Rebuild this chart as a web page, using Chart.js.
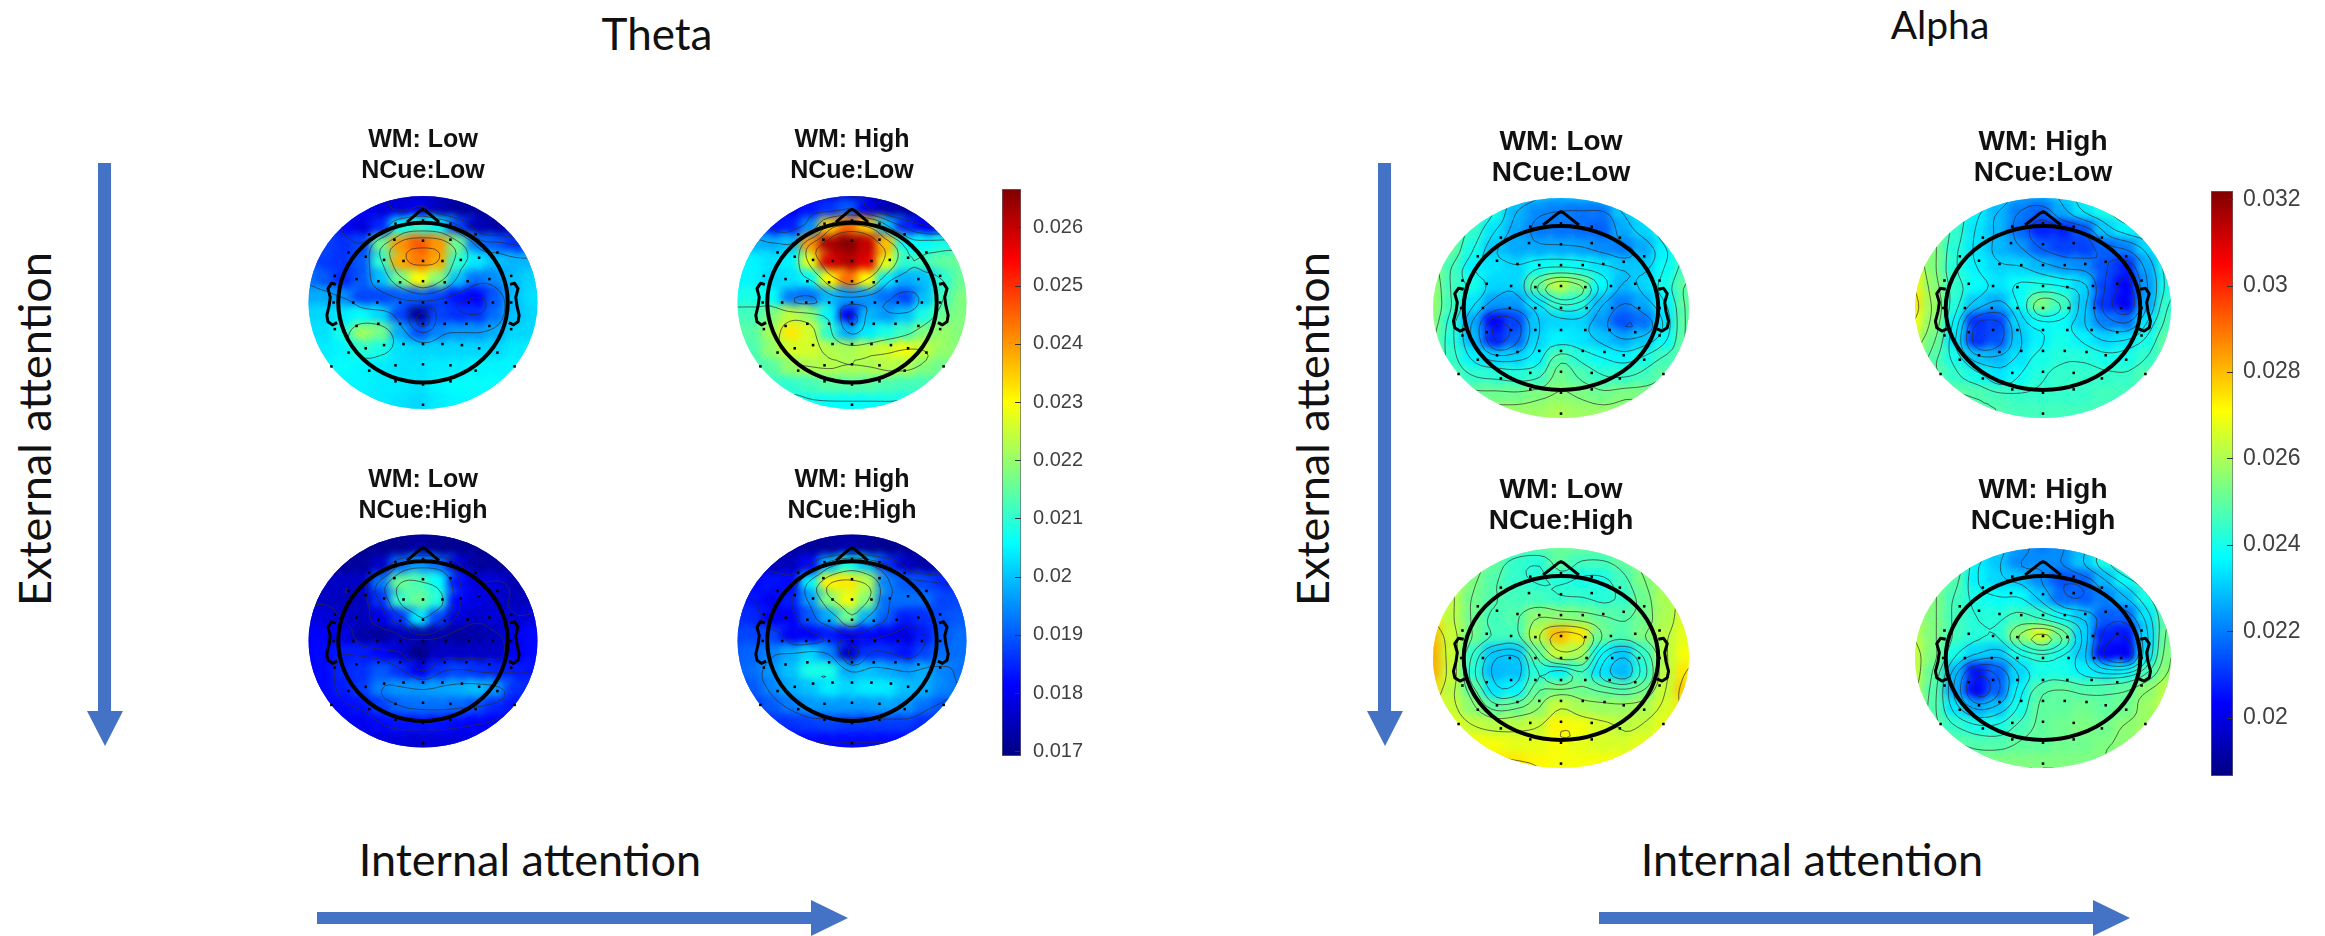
<!DOCTYPE html>
<html>
<head>
<meta charset="utf-8">
<title>Theta and Alpha topographies</title>
<script src="https://cdn.jsdelivr.net/npm/chart.js@4"></script>
<style>
  html, body { margin: 0; background: #fff; overflow: hidden; }
  #page { position: relative; width: 2325px; height: 936px; }
  canvas { position: absolute; }
  svg { position: absolute; left: 0; top: 0; }
  .label { position: absolute; font-family: Lato, sans-serif; color: #111; white-space: nowrap; transform: translate(-50%, -50%); }
  .side { transform: translate(-50%, -50%) rotate(-90deg); }
</style>
</head>
<body>
<div id="page">
  <svg width="2325" height="936">
    <g fill="#4472C4">
      <polygon points="98,163 111,163 111,711 123,711 105,746 87,711 98,711"/>
      <polygon points="1378,163 1391,163 1391,711 1403,711 1385,746 1367,711 1378,711"/>
      <polygon points="317,912 811,912 811,900 848,918 811,936 811,924 317,924"/>
      <polygon points="1599,912 2093,912 2093,900 2130,918 2093,936 2093,924 1599,924"/>
    </g>
  </svg>
  <div class="label" style="left:657px;top:33px;font-size:44px">Theta</div>
  <div class="label" style="left:1940px;top:24px;font-size:39px">Alpha</div>
  <div class="label side" style="left:34px;top:429px;font-size:45px">External attention</div>
  <div class="label side" style="left:1312px;top:429px;font-size:45px">External attention</div>
  <div class="label" style="left:530px;top:859px;font-size:45px">Internal attention</div>
  <div class="label" style="left:1812px;top:859px;font-size:45px">Internal attention</div>
</div>
<script>
// grid of the interpolated maps (values in 1e-3)
const gridX = [-1, -0.833, -0.667, -0.5, -0.333, -0.167, 0, 0.167, 0.333, 0.5, 0.667, 0.833, 1];
const gridY = [1, 0.833, 0.667, 0.5, 0.333, 0.167, 0, -0.167, -0.333, -0.5, -0.667, -0.833, -1];

const thetaLowLow = [
  [18.5,18.3,18.0,17.8,17.6,17.5,17.5,17.4,17.3,17.2,17.2,17.2,17.2],
  [18.6,18.5,18.3,18.2,17.8,17.8,18.0,17.5,17.2,17.2,17.2,17.2,17.2],
  [18.8,18.6,18.2,17.8,18.5,20.6,21.0,20.6,18.8,17.5,17.3,17.3,17.3],
  [18.9,18.8,18.6,18.8,21.6,24.0,24.6,24.0,21.6,19.3,19.0,18.6,18.6],
  [19.0,18.7,18.6,19.0,21.0,23.8,24.3,23.8,21.0,20.4,20.0,19.9,19.9],
  [19.3,19.0,18.5,19.0,20.0,21.6,23.0,21.8,20.0,19.2,19.5,20.0,20.2],
  [19.8,19.8,19.5,18.8,18.8,19.0,19.0,18.8,18.3,18.1,19.0,20.0,20.3],
  [20.2,20.2,20.4,20.6,20.2,18.8,17.2,18.8,18.6,18.6,19.2,20.0,20.2],
  [20.3,20.3,20.8,22.1,21.7,19.8,18.9,19.4,19.6,19.6,19.8,20.2,20.2],
  [20.4,20.4,20.5,21.0,20.8,20.3,20.2,20.2,20.2,20.2,20.2,20.4,20.4],
  [20.5,20.5,20.6,20.5,20.4,20.3,20.3,20.4,20.4,20.5,20.5,20.5,20.5],
  [20.5,20.5,20.5,20.5,20.4,20.4,20.3,20.5,20.6,20.6,20.6,20.6,20.6],
  [20.4,20.4,20.4,20.4,20.4,20.3,20.2,20.4,20.5,20.5,20.5,20.5,20.5],
];
const thetaHighLow = [
  [18.5,18.3,18.0,17.9,17.8,17.7,17.6,17.5,17.3,17.2,17.2,17.2,17.2],
  [18.8,18.5,18.3,18.0,18.3,18.6,19.0,18.0,17.4,17.2,17.2,17.2,17.2],
  [19.0,18.9,18.3,18.4,19.5,23.4,24.4,23.4,20.0,18.5,18.0,18.0,18.0],
  [19.9,19.9,19.8,20.0,24.0,26.2,26.6,26.0,23.6,20.6,20.6,20.8,20.8],
  [20.6,20.5,20.3,20.5,22.8,25.8,26.2,25.7,22.8,21.0,21.2,21.5,21.6],
  [20.5,20.5,20.2,20.3,20.6,23.0,24.4,23.0,20.4,19.8,20.0,21.0,21.6],
  [20.8,20.8,20.6,19.3,19.2,19.9,19.6,19.6,19.2,18.8,20.0,21.2,21.8],
  [21.2,21.2,21.8,22.4,21.9,20.5,18.0,19.9,19.6,20.0,20.8,21.6,21.8],
  [21.4,21.4,22.2,23.2,22.6,21.0,19.8,20.4,20.8,21.2,21.8,22.0,21.8],
  [21.3,21.3,22.0,22.6,22.6,22.3,22.2,22.4,22.6,22.9,22.4,22.0,21.8],
  [21.2,21.2,21.4,22.0,22.2,22.3,22.2,22.2,22.3,22.2,21.8,21.6,21.6],
  [21.0,21.0,21.0,21.0,21.2,21.4,21.4,21.4,21.3,21.2,21.2,21.2,21.2],
  [20.7,20.7,20.7,20.7,20.7,20.6,20.6,20.6,20.7,20.7,20.8,20.8,20.8],
];
const thetaLowHigh = [
  [17.3,17.3,17.2,17.2,17.2,17.2,17.2,17.1,17.1,17.1,17.1,17.1,17.1],
  [17.4,17.3,17.2,17.1,17.1,17.1,17.3,17.1,17.1,17.1,17.1,17.1,17.1],
  [17.5,17.4,17.2,17.2,17.6,19.2,19.6,19.2,17.8,17.2,17.2,17.1,17.1],
  [17.6,17.5,17.6,17.6,19.3,21.6,21.3,20.6,18.3,17.8,17.8,17.4,17.4],
  [17.6,17.6,17.5,17.5,18.6,21.1,21.6,20.9,18.2,17.9,17.7,17.5,17.5],
  [17.8,17.8,17.6,17.5,17.9,18.6,20.4,18.8,17.8,17.6,17.8,17.7,17.8],
  [18.1,18.1,17.9,17.3,17.2,17.5,17.4,17.4,17.2,17.3,17.5,18.0,18.2],
  [18.1,18.2,18.4,18.4,18.2,17.7,17.0,17.6,17.6,17.6,17.6,18.0,18.2],
  [18.1,18.2,18.5,18.6,19.0,18.6,18.0,18.6,18.8,18.6,18.5,18.4,18.3],
  [18.1,18.2,18.4,18.7,19.4,19.6,19.6,19.7,19.8,20.0,19.6,18.6,18.5],
  [18.0,18.1,18.2,18.3,18.7,19.1,19.2,19.2,19.1,18.9,18.5,18.3,18.3],
  [17.8,17.9,18.0,18.0,18.2,18.3,18.3,18.3,18.2,18.1,18.1,18.1,18.0],
  [17.8,17.8,17.8,17.8,17.8,17.8,17.7,17.8,17.8,17.9,17.9,17.9,17.9],
];
const thetaHighHigh = [
  [17.5,17.4,17.3,17.2,17.2,17.2,17.2,17.1,17.1,17.1,17.1,17.1,17.1],
  [17.6,17.5,17.4,17.3,17.2,17.2,17.4,17.2,17.1,17.1,17.1,17.1,17.1],
  [17.9,17.8,17.5,17.5,18.2,20.0,20.8,20.0,18.6,17.6,17.3,17.3,17.3],
  [18.2,18.2,18.3,18.2,20.5,23.1,23.2,22.3,19.4,19.0,18.8,18.5,18.5],
  [18.5,18.3,18.0,18.4,19.6,21.8,22.9,21.8,19.2,19.2,19.2,18.8,18.8],
  [18.6,18.5,18.0,18.1,19.0,19.8,21.6,19.8,19.0,18.4,18.6,18.9,19.0],
  [18.8,18.8,18.8,18.0,18.1,18.4,18.0,18.2,18.0,17.8,18.4,19.0,19.2],
  [19.0,19.1,19.4,19.8,20.2,19.4,17.6,18.6,18.6,18.3,18.8,19.2,19.2],
  [19.0,19.2,19.6,20.0,20.8,20.8,19.8,20.0,19.8,19.6,19.8,19.4,19.2],
  [18.8,19.0,19.4,19.8,20.0,20.4,20.2,20.4,20.4,20.0,19.8,19.4,19.2],
  [18.6,18.7,19.0,19.3,19.6,19.6,19.6,19.6,19.7,19.6,19.2,18.9,18.8],
  [18.4,18.4,18.6,18.6,18.7,18.8,18.7,18.7,18.7,18.7,18.5,18.4,18.4],
  [18.2,18.2,18.2,18.2,18.2,18.2,18.2,18.2,18.2,18.2,18.2,18.2,18.2],
];
const alphaLowLow = [
  [25.0,25.0,24.6,24.0,23.4,23.0,22.8,23.0,23.2,23.6,24.0,24.4,24.8],
  [25.2,25.0,24.6,24.0,22.8,22.2,22.0,21.9,21.9,23.0,23.6,24.2,24.8],
  [25.4,25.1,24.4,23.4,22.6,22.0,21.9,21.8,21.6,22.6,23.2,24.0,24.6],
  [25.4,25.0,24.0,23.0,22.6,22.6,22.6,22.5,22.2,22.0,22.6,23.6,24.4],
  [25.6,24.6,23.6,23.4,23.2,23.8,24.0,23.8,23.4,23.0,23.0,23.8,24.6],
  [25.8,24.6,24.0,23.2,23.2,25.0,26.2,25.5,23.8,22.8,23.2,24.0,25.0],
  [25.8,24.6,23.4,22.4,22.4,23.4,24.4,24.2,22.8,22.0,22.6,23.6,25.0],
  [25.6,24.2,22.6,20.4,21.2,23.0,23.2,23.2,22.4,21.4,21.8,23.4,25.0],
  [25.4,24.2,22.8,20.8,21.6,23.2,23.6,23.4,23.0,22.6,23.0,23.8,25.0],
  [25.4,24.4,23.6,23.2,23.2,23.6,24.8,24.2,23.8,23.6,24.0,24.6,25.0],
  [25.4,24.8,24.4,24.3,24.2,24.4,25.2,24.8,24.4,24.4,24.6,25.0,25.2],
  [25.6,25.4,25.2,25.2,25.2,25.4,25.6,25.4,25.2,25.4,25.4,25.4,25.4],
  [25.8,25.8,25.8,25.8,25.8,25.8,26.0,25.8,25.8,25.6,25.6,25.6,25.6],
];
const alphaHighLow = [
  [25.5,25.0,24.6,24.0,23.4,22.6,22.6,23.2,24.0,24.6,25.0,25.0,25.0],
  [25.8,25.2,24.5,23.6,22.8,22.0,21.6,22.6,23.4,24.0,24.6,25.0,25.0],
  [26.2,25.4,24.4,23.4,22.8,21.8,20.8,20.8,21.4,23.0,23.6,24.0,24.6],
  [26.4,25.4,24.2,23.4,22.8,22.4,21.6,21.2,21.2,21.6,22.0,23.2,24.2],
  [26.8,25.4,24.2,23.6,23.2,23.2,22.8,22.4,22.2,21.4,20.8,22.6,24.0],
  [27.2,25.6,24.4,23.8,23.4,23.8,24.0,23.8,23.2,21.2,20.4,22.4,24.0],
  [27.4,25.8,24.2,23.0,22.6,23.8,25.4,24.6,23.0,21.0,20.2,22.6,24.4],
  [27.0,25.6,23.6,21.0,21.2,23.2,23.8,23.8,23.0,22.0,21.8,23.4,24.6],
  [26.4,25.2,23.4,21.0,21.4,23.0,23.6,24.0,23.6,23.2,23.4,24.0,25.0],
  [26.0,24.8,24.0,23.0,22.8,23.4,24.0,24.2,24.2,24.0,24.0,24.4,25.0],
  [25.6,25.0,24.4,24.0,23.4,23.8,24.2,24.4,24.4,24.4,24.4,24.8,25.0],
  [25.4,25.2,25.0,24.8,24.6,24.4,24.4,24.4,24.4,24.6,24.6,24.6,24.8],
  [25.0,25.0,25.0,24.8,24.8,24.6,24.6,24.6,24.6,24.6,24.6,24.6,24.6],
];
const alphaLowHigh = [
  [26.0,26.0,25.6,25.4,25.2,25.2,25.2,25.2,25.2,25.4,25.6,25.8,26.0],
  [26.4,26.2,25.6,25.0,24.4,24.2,25.0,24.6,24.6,25.0,25.6,26.0,26.2],
  [26.8,26.2,25.4,24.8,24.4,24.2,24.2,24.0,24.0,24.6,25.4,26.0,26.4],
  [27.0,26.2,25.2,24.8,24.6,24.6,24.4,24.4,24.2,24.4,25.2,26.0,26.4],
  [27.2,26.2,25.2,24.6,24.8,25.6,25.6,25.4,25.0,24.8,25.2,26.0,26.6],
  [28.0,26.4,25.2,24.6,24.6,26.2,28.0,27.4,25.2,24.8,25.4,26.2,26.8],
  [28.2,26.4,24.4,23.0,23.0,25.0,26.4,26.0,23.8,23.0,24.4,26.2,27.0],
  [28.2,26.4,24.2,22.8,22.9,24.2,23.6,24.6,23.4,22.8,24.2,26.2,27.4],
  [27.6,26.2,25.0,23.4,23.6,25.0,25.4,25.2,25.0,24.8,25.2,26.4,27.8],
  [27.2,26.4,25.6,25.0,25.2,25.6,26.4,26.0,25.8,25.8,26.0,26.6,27.4],
  [27.0,26.8,26.4,26.2,26.2,26.4,27.2,27.0,26.6,26.2,26.4,26.8,27.0],
  [27.0,27.0,27.0,27.0,26.8,26.8,27.0,26.8,26.6,26.6,26.8,27.0,27.0],
  [27.4,27.4,27.4,27.4,27.4,27.2,27.0,27.0,27.0,27.0,27.0,27.0,27.0],
];
const alphaHighHigh = [
  [25.5,25.2,24.8,24.0,23.2,22.4,22.0,22.2,23.0,24.0,24.6,25.0,25.2],
  [25.6,25.4,25.0,23.6,23.0,22.2,22.2,22.2,23.0,24.0,24.8,25.2,25.4],
  [25.8,25.4,24.8,23.6,23.2,23.0,22.2,21.4,21.6,22.8,23.8,24.6,25.2],
  [26.0,25.4,24.6,24.0,23.8,23.8,23.0,21.8,21.6,22.0,22.8,24.0,25.0],
  [26.0,25.4,24.6,24.2,24.2,24.6,24.4,23.8,23.0,21.6,21.6,23.4,25.0],
  [26.2,25.4,24.6,24.2,24.2,25.6,26.6,25.2,23.2,20.8,20.6,23.2,25.2],
  [26.4,25.4,24.0,23.2,23.0,24.0,24.4,24.0,23.0,20.4,20.2,23.4,25.4],
  [26.4,25.0,22.8,20.6,21.6,23.2,24.0,24.0,23.6,23.4,23.6,24.6,25.6],
  [26.2,24.8,22.6,20.4,21.6,23.6,24.8,25.0,24.8,24.8,25.0,25.6,26.2],
  [26.0,24.8,23.4,22.6,23.0,24.0,25.0,25.0,25.2,25.0,25.2,25.8,26.4],
  [25.6,25.0,24.4,24.0,24.0,24.6,25.0,25.2,25.4,25.2,25.6,25.8,26.0],
  [25.4,25.2,25.0,24.8,24.8,25.0,25.0,25.2,25.2,25.4,25.6,25.8,26.0],
  [25.4,25.4,25.4,25.4,25.4,25.4,25.4,25.4,25.4,25.4,25.6,25.6,25.8],
];

// electrode positions, head units
const electrodeX = [0,-.24,.24,-.47,.46,-.25,0,.24,-.65,.65,-.5,.49,-.34,-.17,0,.17,.33,-.77,.77,-.58,.58,-.39,-.2,0,.19,.39,-.78,-.61,-.4,-.2,0,.2,.4,.61,.77,-.58,.58,-.39,.38,-.2,0,.19,-.77,.77,-.5,.49,-.34,.34,-.17,0,.17,-.65,.65,-.8,.8,-.24,0,.24,-.47,.46,-.24,.24,0,0];
const electrodeY = [.77,.74,.74,.64,.64,.59,.58,.59,.47,.47,.43,.42,.4,.39,.39,.39,.4,.25,.25,.22,.22,.2,.19,.2,.19,.2,0,0,0,0,0,0,0,0,0,-.22,-.22,-.2,-.2,-.2,-.2,-.2,-.25,-.25,-.43,-.43,-.4,-.4,-.39,-.39,-.39,-.47,-.47,-.6,-.6,-.59,-.58,-.59,-.64,-.64,-.74,-.74,-.77,-.96];

// head cartoon
const noseX = [-.14, -.02, 0, .02, .14];
const noseY = [.755, .865, .875, .865, .755];
const earX = [-.76, -.8, -.83, -.81, -.82, -.84, -.83, -.79, -.75];
const earY = [.17, .18, .13, .05, -.03, -.12, -.18, -.21, -.19];

// colour ranges and ticks of the two colorbars
const thetaRange = [16.92, 26.66];
const alphaRange = [18.65, 32.19];
const thetaTicks = [0.017, 0.018, 0.019, 0.02, 0.021, 0.022, 0.023, 0.024, 0.025, 0.026];
const alphaTicks = [0.02, 0.022, 0.024, 0.026, 0.028, 0.03, 0.032];
const thetaLevels = [17.6, 18.3, 19.3, 20.9, 22.4, 24.4];
const alphaLevels = [20.6, 21.4, 22.2, 23, 23.6, 24.2, 24.8, 25.4, 26.2, 27.2];

const panels = [
  { id: "t1", values: thetaLowLow,   title: ["WM: Low", "NCue:Low"],   range: thetaRange, levels: thetaLevels, cx: 422.5,  cy: 302.5, rx: 114.5, ry: 106.5, titleY: 140, font: 25, ring: [0.74, 0.75] },
  { id: "t2", values: thetaHighLow,  title: ["WM: High", "NCue:Low"],  range: thetaRange, levels: thetaLevels, cx: 851.5,  cy: 302.5, rx: 114.5, ry: 106.5, titleY: 140, font: 25, ring: [0.74, 0.75] },
  { id: "t3", values: thetaLowHigh,  title: ["WM: Low", "NCue:High"],  range: thetaRange, levels: thetaLevels, cx: 422.5,  cy: 641,   rx: 114.5, ry: 106.5, titleY: 480, font: 25, ring: [0.74, 0.75] },
  { id: "t4", values: thetaHighHigh, title: ["WM: High", "NCue:High"], range: thetaRange, levels: thetaLevels, cx: 851.5,  cy: 641,   rx: 114.5, ry: 106.5, titleY: 480, font: 25, ring: [0.74, 0.75] },
  { id: "a1", values: alphaLowLow,   title: ["WM: Low", "NCue:Low"],   range: alphaRange, levels: alphaLevels, cx: 1561,   cy: 308,   rx: 128,   ry: 110,   titleY: 142, font: 28, ring: [0.76, 0.745] },
  { id: "a2", values: alphaHighLow,  title: ["WM: High", "NCue:Low"],  range: alphaRange, levels: alphaLevels, cx: 2042.5, cy: 308,   rx: 128,   ry: 110,   titleY: 142, font: 28, ring: [0.76, 0.745] },
  { id: "a3", values: alphaLowHigh,  title: ["WM: Low", "NCue:High"],  range: alphaRange, levels: alphaLevels, cx: 1561,   cy: 658,   rx: 128,   ry: 110,   titleY: 490, font: 28, ring: [0.76, 0.745] },
  { id: "a4", values: alphaHighHigh, title: ["WM: High", "NCue:High"], range: alphaRange, levels: alphaLevels, cx: 2042.5, cy: 658,   rx: 128,   ry: 110,   titleY: 490, font: 28, ring: [0.76, 0.745] },
];

const page = document.getElementById("page");

function jet(t) {
  const c = (v) => Math.round(255 * Math.max(0, Math.min(1, v)));
  return "rgb(" + c(1.5 - Math.abs(4 * t - 3)) + "," + c(1.5 - Math.abs(4 * t - 2)) + "," + c(1.5 - Math.abs(4 * t - 1)) + ")";
}

function addCanvas(left, top, width, height) {
  const canvas = document.createElement("canvas");
  canvas.width = width;
  canvas.height = height;
  canvas.style.left = left + "px";
  canvas.style.top = top + "px";
  page.appendChild(canvas);
  return canvas;
}

function catmull(a, b, c, d, t) {
  return 0.5 * (2 * b + (c - a) * t + (2 * a - 5 * b + 4 * c - d) * t * t + (3 * b - a - 3 * c + d) * t * t * t);
}

// finer copy of a map, only used to trace smooth contour lines
function fineGrid(m, k) {
  const at = (r, i) => r[Math.max(0, Math.min(r.length - 1, i))];
  const fineLine = (r) => {
    const out = [];
    for (let i = 0; i < r.length - 1; i++) {
      for (let s = 0; s < k; s++) out.push(catmull(at(r, i - 1), r[i], r[i + 1], at(r, i + 2), s / k));
    }
    out.push(r[r.length - 1]);
    return out;
  };
  const rows = m.map(fineLine);
  const cols = rows[0].map((_, j) => fineLine(rows.map((r) => r[j])));
  return cols[0].map((_, i) => cols.map((c) => c[i]));
}

function drawContours(chart, panel) {
  const { ctx, scales } = chart;
  const k = 4;
  const fine = fineGrid(panel.values, k);
  const xAt = (j) => scales.x.getPixelForValue(-1 + (2 * j) / (fine[0].length - 1));
  const yAt = (i) => scales.y.getPixelForValue(1 - (2 * i) / (fine.length - 1));
  ctx.strokeStyle = "rgba(45,45,45,0.7)";
  ctx.lineWidth = 1;
  ctx.beginPath();
  panel.levels.forEach((level) => {
    for (let i = 0; i < fine.length - 1; i++) {
      for (let j = 0; j < fine[0].length - 1; j++) {
        const a = fine[i][j], b = fine[i][j + 1], c = fine[i + 1][j + 1], d = fine[i + 1][j];
        const pts = [];
        if (a < level !== b < level) pts.push([j + (level - a) / (b - a), i]);
        if (b < level !== c < level) pts.push([j + 1, i + (level - b) / (c - b)]);
        if (d < level !== c < level) pts.push([j + (level - d) / (c - d), i + 1]);
        if (a < level !== d < level) pts.push([j, i + (level - a) / (d - a)]);
        for (let p = 0; p + 1 < pts.length; p += 2) {
          ctx.moveTo(xAt(pts[p][0]), yAt(pts[p][1]));
          ctx.lineTo(xAt(pts[p + 1][0]), yAt(pts[p + 1][1]));
        }
      }
    }
  });
  ctx.stroke();
}

function tracePath(chart, xs, ys, sign) {
  const { ctx, scales } = chart;
  xs.forEach((x, i) => {
    const px = scales.x.getPixelForValue(sign * x);
    const py = scales.y.getPixelForValue(ys[i]);
    if (i === 0) ctx.moveTo(px, py);
    else ctx.lineTo(px, py);
  });
}

// clips the cell dataset to the map's ellipse and softens the cells
const mapPlugin = {
  id: "topoMap",
  beforeDatasetDraw(chart, args) {
    if (args.index !== 1) return;
    const { ctx, chartArea: a } = chart;
    ctx.save();
    ctx.beginPath();
    ctx.ellipse((a.left + a.right) / 2, (a.top + a.bottom) / 2, a.width / 2, a.height / 2, 0, 0, Math.PI * 2);
    ctx.clip();
    ctx.filter = "blur(4.5px)";
  },
  afterDatasetDraw(chart, args, opts) {
    if (args.index !== 1) return;
    chart.ctx.filter = "none";
    drawContours(chart, opts.panel);
    chart.ctx.restore();
  },
  afterDatasetsDraw(chart, args, opts) {
    const { ctx, scales } = chart;
    const [ringX, ringY] = opts.panel.ring;
    const mx = scales.x.getPixelForValue(0), my = scales.y.getPixelForValue(0);
    ctx.save();
    ctx.strokeStyle = "#000";
    ctx.lineJoin = "round";
    ctx.lineWidth = 3;
    ctx.beginPath();
    tracePath(chart, noseX, noseY, 1);
    tracePath(chart, earX, earY, 1);
    tracePath(chart, earX, earY, -1);
    ctx.stroke();
    ctx.lineWidth = 4;
    ctx.beginPath();
    ctx.ellipse(mx, my, scales.x.getPixelForValue(ringX) - mx, my - scales.y.getPixelForValue(ringY), 0, 0, Math.PI * 2);
    ctx.stroke();
    ctx.restore();
  },
};

panels.forEach((panel) => {
  const width = 300;
  const lineHeight = 31;
  const top = Math.round(panel.titleY - lineHeight / 2);
  const height = Math.ceil(panel.cy + panel.ry) + 2 - top;
  const pad = panel.cy - panel.ry - top - 2 * lineHeight;
  const side = (width - 2 * panel.rx) / 2;
  const canvas = addCanvas(Math.round(panel.cx - width / 2), top, width, height);
  const cells = [];
  const colours = [];
  panel.values.forEach((row, i) => {
    row.forEach((v, j) => {
      cells.push({ x: gridX[j], y: gridY[i] });
      colours.push(jet((v - panel.range[0]) / (panel.range[1] - panel.range[0])));
    });
  });
  new Chart(canvas, {
    type: "scatter",
    data: {
      datasets: [
        {
          label: "electrodes",
          data: electrodeX.map((x, i) => ({ x: x, y: electrodeY[i] })),
          order: 0,
          pointStyle: "rect",
          pointRadius: 1.8,
          backgroundColor: "#000",
          borderWidth: 0,
          clip: false,
        },
        {
          label: "map",
          data: cells,
          order: 1,
          pointStyle: "rect",
          pointRadius: 20,
          backgroundColor: colours,
          borderWidth: 0,
          clip: false,
        },
      ],
    },
    options: {
      responsive: false,
      animation: false,
      events: [],
      layout: {
        autoPadding: false,
        padding: { left: side, right: side, top: 0, bottom: height - (panel.cy + panel.ry - top) },
      },
      scales: {
        x: { display: false, min: -1, max: 1 },
        y: { display: false, min: -1, max: 1 },
      },
      plugins: {
        legend: { display: false },
        tooltip: { enabled: false },
        title: {
          display: true,
          text: panel.title,
          color: "#111",
          font: { family: "'Liberation Sans', Arial, sans-serif", size: panel.font, weight: "bold", lineHeight: lineHeight / panel.font },
          padding: { top: 0, bottom: pad },
        },
        topoMap: { panel: panel },
      },
    },
    plugins: [mapPlugin],
  });
});

// colorbars: one floating bar with a jet gradient on a real value axis
const innerTicks = {
  id: "innerTicks",
  afterDatasetsDraw(chart) {
    const { ctx, chartArea, scales } = chart;
    ctx.save();
    ctx.strokeStyle = "#333";
    ctx.lineWidth = 1;
    ctx.beginPath();
    scales.y.ticks.forEach((_, i) => {
      const y = Math.round(scales.y.getPixelForTick(i)) + 0.5;
      ctx.moveTo(chartArea.right, y);
      ctx.lineTo(chartArea.right - 6, y);
    });
    ctx.stroke();
    ctx.restore();
  },
};

function addColorbar(left, top, bottom, barWidth, range, ticks, fontSize, gap) {
  const width = 120;
  const padLeft = 6;
  const margin = 24;
  const canvas = addCanvas(left - padLeft, top - margin, width, bottom - top + 2 * margin);
  new Chart(canvas, {
    type: "bar",
    data: {
      labels: ["scale"],
      datasets: [
        {
          data: [[range[0] / 1000, range[1] / 1000]],
          barPercentage: 1,
          categoryPercentage: 1,
          borderWidth: 1,
          borderColor: "#666",
          borderSkipped: false,
          backgroundColor: (ctx) => {
            const area = ctx.chart.chartArea;
            if (!area) return "#00f";
            const g = ctx.chart.ctx.createLinearGradient(0, area.bottom, 0, area.top);
            [0, 0.125, 0.375, 0.625, 0.875, 1].forEach((t) => g.addColorStop(t, jet(t)));
            return g;
          },
        },
      ],
    },
    options: {
      responsive: false,
      animation: false,
      events: [],
      layout: { autoPadding: false, padding: { left: padLeft, top: margin, bottom: margin, right: 0 } },
      scales: {
        x: { display: false },
        y: {
          position: "right",
          min: range[0] / 1000,
          max: range[1] / 1000,
          afterBuildTicks: (axis) => { axis.ticks = ticks.map((v) => ({ value: v })); },
          afterFit: (axis) => { axis.width = width - padLeft - barWidth; },
          grid: { display: false },
          border: { display: false },
          ticks: {
            color: "#404040",
            padding: gap,
            autoSkip: false,
            font: { family: "'Liberation Sans', Arial, sans-serif", size: fontSize },
            callback: (v) => String(v),
          },
        },
      },
      plugins: { legend: { display: false }, tooltip: { enabled: false } },
    },
    plugins: [innerTicks],
  });
}

addColorbar(1002, 189, 756, 19, thetaRange, thetaTicks, 20, 4);
addColorbar(2211, 191, 776, 22, alphaRange, alphaTicks, 23, 2);
</script>
</body>
</html>
